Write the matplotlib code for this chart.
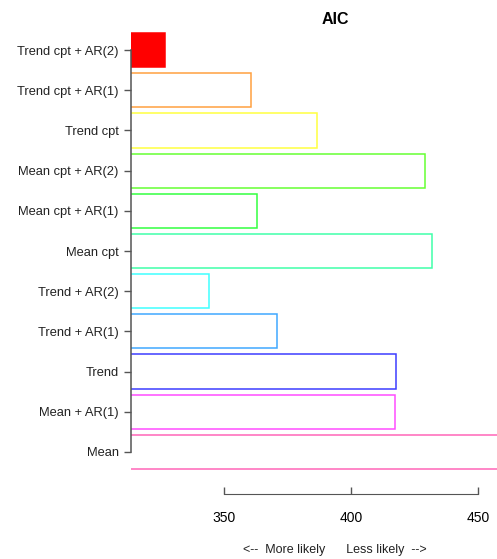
import matplotlib
matplotlib.use("Agg")
import matplotlib.pyplot as plt

models = ["Mean", "Mean + AR(1)", "Trend", "Trend + AR(1)", "Trend + AR(2)",
          "Mean cpt", "Mean cpt + AR(1)", "Mean cpt + AR(2)", "Trend cpt",
          "Trend cpt + AR(1)", "Trend cpt + AR(2)"]
aic = [470.0, 417.2, 417.8, 370.7, 344.2, 432.0, 363.1, 429.3, 386.7, 360.5, 326.8]
colors = ["#FF66B8", "#FF4DFF", "#3D3DFF", "#40A8FF", "#40FFFF", "#40FFAA",
          "#33FF40", "#66FF33", "#FFFF40", "#FFA040", "#FF0000"]
best = "Trend cpt + AR(2)"
xticks = [350, 400, 450]

plt.rcParams['font.family'] = ['Liberation Sans', 'DejaVu Sans']

W, H = 497, 559
fig = plt.figure(figsize=(W / 100, H / 100), dpi=100)
left_px, right_px, top_px, bot_px = 131, 497, 25, 475
ax = fig.add_axes([left_px / W, 1 - bot_px / H, (right_px - left_px) / W, (bot_px - top_px) / H])

ypos = list(range(len(models)))
for y, v, c, m in zip(ypos, aic, colors, models):
    fill = (m == best)
    ax.barh(y, v, left=0, height=0.85,
            color=c if fill else "none", edgecolor=c, linewidth=1.1, zorder=2)

ax.set_xlim(313.4, 457.5)
ax.set_ylim(-0.575, 10.625)

ax.set_yticks(ypos)
ax.set_yticklabels(models, fontsize=9.3, color="#222222")
ax.tick_params(axis='y', direction='out', length=5, width=1, color="#555555", pad=4)
ax.spines['left'].set_bounds(0, 10)
ax.spines['left'].set_color("#555555")
ax.spines['left'].set_linewidth(1.1)
ax.spines['left'].set_zorder(3)

ax.set_xticks(xticks)
ax.set_xticklabels([str(t) for t in xticks], fontsize=9.3, color="#222222")
ax.spines['bottom'].set_position(('outward', 19 * 72 / 100))
ax.spines['bottom'].set_bounds(350, 450)
ax.spines['bottom'].set_color("#555555")
ax.tick_params(axis='x', direction='in', length=5, width=1, color="#555555", pad=12)
ax.xaxis.get_major_ticks()[1].tick1line.set_color("#cccccc")

for s in ['top', 'right']:
    ax.spines[s].set_visible(False)

fig.text(335 / W, 1 - 20 / H, "AIC", ha='center', va='center', fontsize=11.5, fontweight='bold')
fig.text(335 / W, 1 - 550 / H, "<--  More likely      Less likely  -->",
         ha='center', va='center', fontsize=9.0, color="#222222")

fig.savefig("out.png", dpi=100)
